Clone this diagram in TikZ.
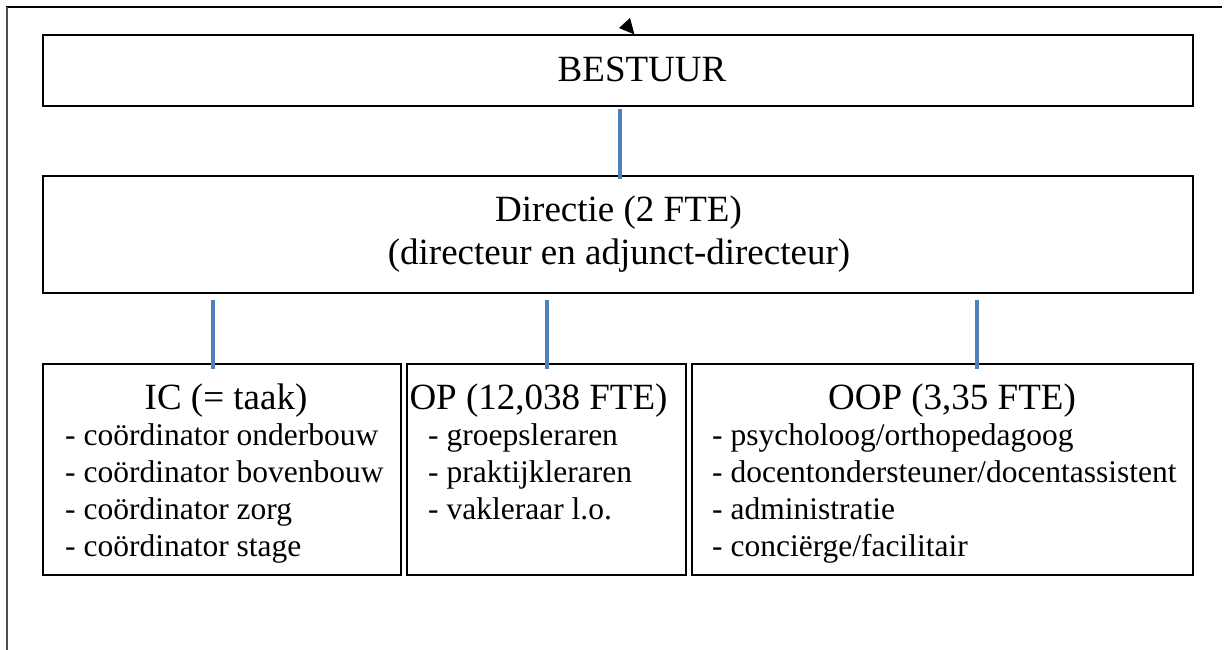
\documentclass[tikz,border=0pt]{standalone}
\usepackage{fontspec}
\setmainfont{Liberation Serif}
\definecolor{connblue}{HTML}{4F81BD}
\begin{document}
\begin{tikzpicture}[x=1pt,y=-1pt,
  box/.style={draw=black, line width=1.8pt, inner sep=0pt, fill=white},
  conn/.style={draw=connblue, line width=4pt},
  frame/.style={line width=1.4pt},
  head/.style={anchor=base, inner sep=0pt, font=\fontsize{37}{44}\selectfont},
  item/.style={anchor=base west, inner sep=0pt, font=\fontsize{31.5}{37}\selectfont}]
\useasboundingbox (0,0) rectangle (1224,650);
% outer frame (top and left only)
\draw[frame, black] (6,7) -- (1222,7);
\draw[frame, black!70] (7,7) -- (7,650);
% small arrow tip
\fill[black] (619,28) -- (630,18) -- (634.5,34.5) -- cycle;
% boxes
\node[box, minimum width=1150pt, minimum height=71pt] (bestuur) at (618,70.5) {};
\node[box, minimum width=1150pt, minimum height=117pt] (dir) at (618,234.5) {};
\node[box, minimum width=358pt, minimum height=211pt] (ic) at (222,469.5) {};
\node[box, minimum width=279pt, minimum height=211pt] (op) at (546.5,469.5) {};
\node[box, minimum width=501pt, minimum height=211pt] (oop) at (942.5,469.5) {};
% texts
\node[head] (tb) at (642,82) {BESTUUR};
\node[head] (td1) at (618.5,222) {Directie (2 FTE)};
\node[head] (td2) at (619,264) {(directeur en adjunct-directeur)};
\node[head] (tic) at (226,409) {IC (= taak)};
\node[item] (ic1) at (65,445) {- coördinator onderbouw};
\node[item] (ic2) at (65,482) {- coördinator bovenbouw};
\node[item] (ic3) at (65,519) {- coördinator zorg};
\node[item] (ic4) at (65,556) {- coördinator stage};
\node[head] (top) at (538.5,409) {OP (12,038 FTE)};
\node[item] (op1) at (428,445) {- groepsleraren};
\node[item] (op2) at (428,482) {- praktijkleraren};
\node[item] (op3) at (428,519) {- vakleraar l.o.};
\node[head] (toop) at (952,409) {OOP (3,35 FTE)};
\node[item] (oop1) at (712,445) {- psycholoog/orthopedagoog};
\node[item] (oop2) at (712,482) {- docentondersteuner/docentassistent};
\node[item] (oop3) at (712,519) {- administratie};
\node[item] (oop4) at (712,556) {- conciërge/facilitair};
% connectors
\draw[conn] ([xshift=2pt,yshift=-2pt]bestuur.south) -- ([xshift=2pt,yshift=-4pt]dir.north);
\draw[conn] ([xshift=-9pt,yshift=-6pt]dir.south -| ic.north) -- ([xshift=-9pt,yshift=-6pt]ic.north);
\draw[conn] ([xshift=0.5pt,yshift=-6pt]dir.south -| op.north) -- ([xshift=0.5pt,yshift=-6pt]op.north);
\draw[conn] ([xshift=34.5pt,yshift=-6pt]dir.south -| oop.north) -- ([xshift=34.5pt,yshift=-6pt]oop.north);
\end{tikzpicture}
\end{document}
